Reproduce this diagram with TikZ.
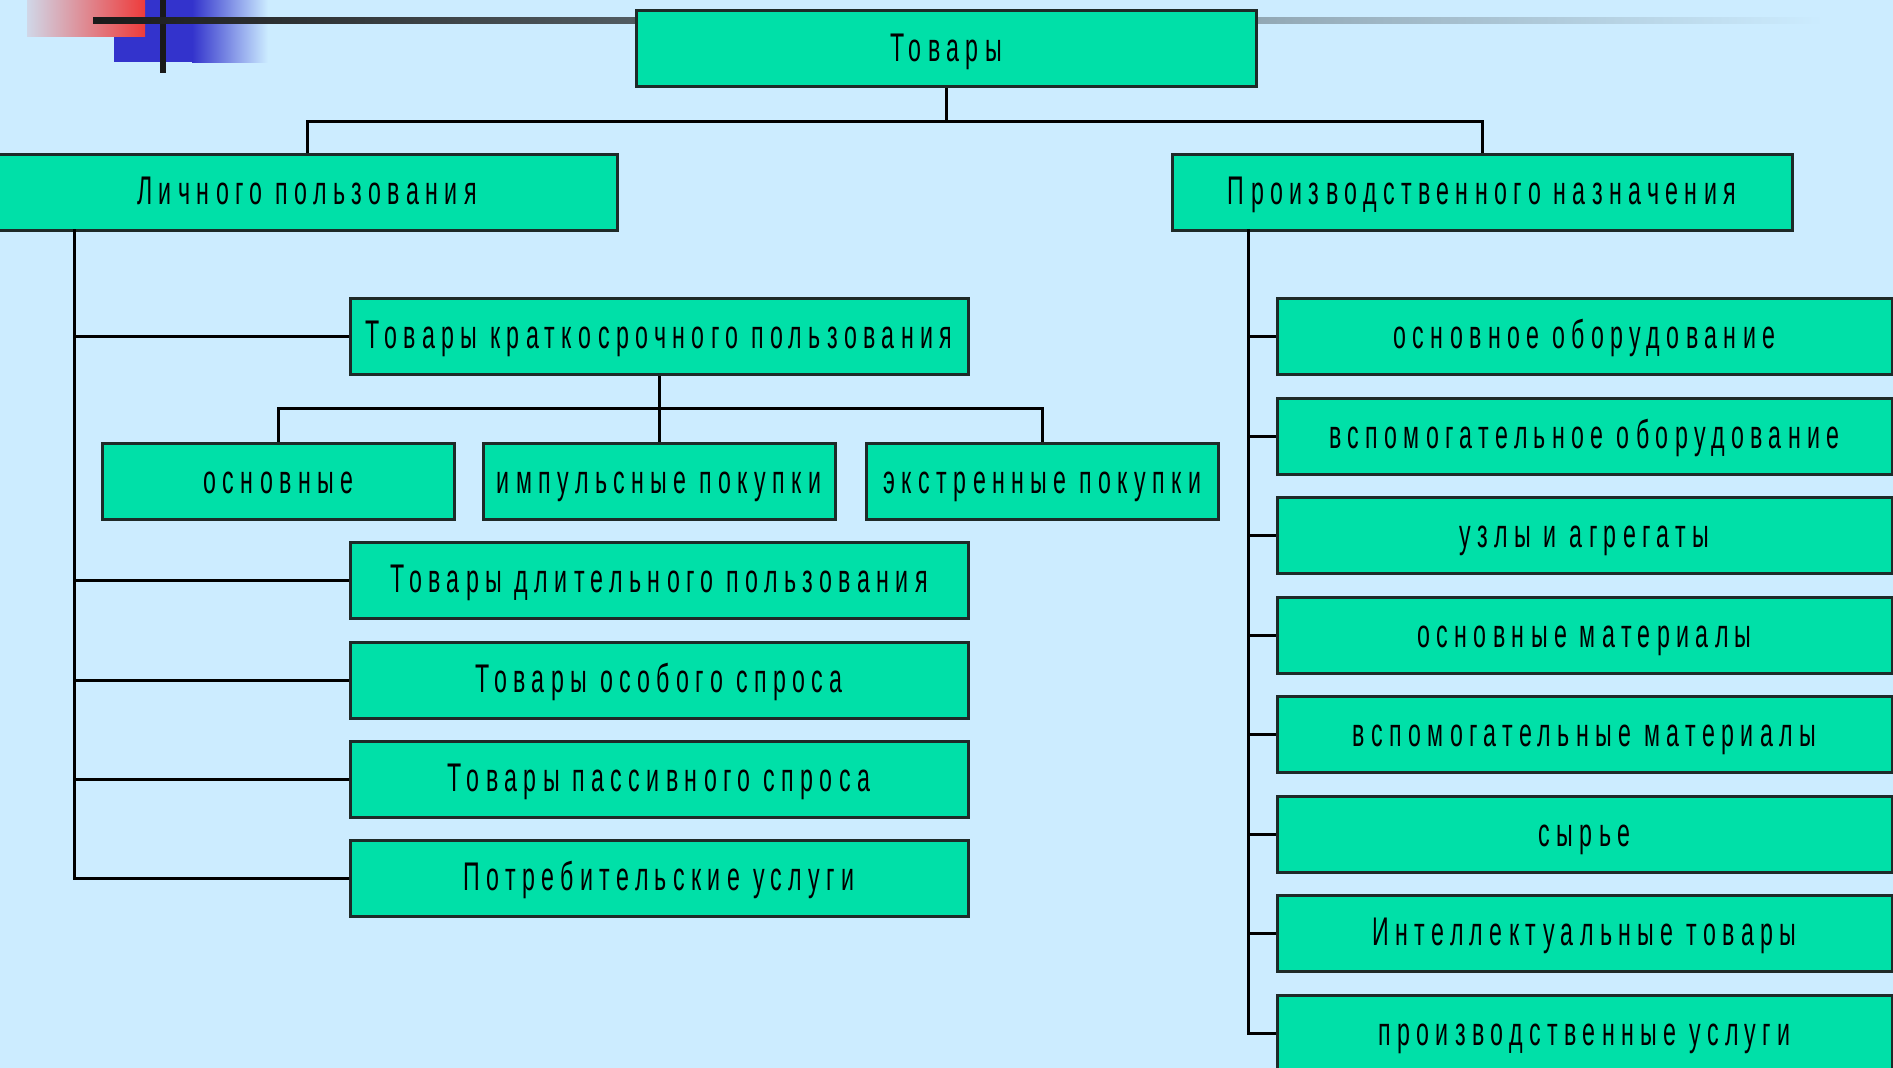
\documentclass[tikz,border=0pt]{standalone}
\usepackage{fontspec}
\usepackage{xcolor}
\newfontfamily\narrowfont[FakeStretch=0.58,LetterSpace=16]{Liberation Sans}
\definecolor{bgblue}{HTML}{CCECFF}
\definecolor{boxfill}{HTML}{00E0A8}
\definecolor{boxline}{HTML}{1E2A28}
\definecolor{decored}{HTML}{EE3B3B}
\definecolor{decoblue}{HTML}{3333CC}

\begin{document}
\begin{tikzpicture}[x=1pt,y=-1pt,
  box/.style={draw=boxline, line width=3pt, fill=boxfill, inner sep=0pt,
    minimum height=76pt, text height=29pt, text depth=4pt,
    font=\narrowfont\fontsize{40}{48}\selectfont},
  wide/.style={box, minimum width=620pt},
  small/.style={box, minimum width=352pt},
  rbox/.style={box, minimum width=615pt},
  link/.style={black, line width=3pt}]
  \useasboundingbox (0,0) rectangle (1893,1068);
  \fill[bgblue] (0,0) rectangle (1893,1068);
  \clip (0,0) rectangle (1893,1068);

  \fill[decoblue] (114,0) rectangle (193,62);
  \shade[left color=decoblue, right color=bgblue] (192,0) rectangle (268,62);
  \shade[left color=decored!12!bgblue, right color=decored] (27,0) rectangle (145,36);
  \fill[black!90] (160,0) rectangle (166,73);
  \shade[left color=black!90, right color=bgblue] (93,17.5) rectangle (1823,23.5);

  \node[wide] (top) at (946,48.5) {Товары};
  \node[wide] (lich) at (307,192) {Личного пользования};
  \node[wide] (proizv) at (1482,192) {Производственного назначения};

  \node[wide, minimum width=618pt] (kratk) at (659,336) {Товары краткосрочного пользования};
  \node[small] (osn) at (278.5,481) {основные};
  \node[small] (imp) at (659,481) {импульсные покупки};
  \node[small] (ekstr) at (1042.5,481) {экстренные покупки};
  \node[wide, minimum width=618pt] (dlit) at (659,580) {Товары длительного пользования};
  \node[wide, minimum width=618pt] (osob) at (659,680) {Товары особого спроса};
  \node[wide, minimum width=618pt] (pass) at (659,779) {Товары пассивного спроса};
  \node[wide, minimum width=618pt] (uslug) at (659,878) {Потребительские услуги};

  \node[rbox] (r1) at (1584.5,336) {основное оборудование};
  \node[rbox] (r2) at (1584.5,436) {вспомогательное оборудование};
  \node[rbox] (r3) at (1584.5,535) {узлы и агрегаты};
  \node[rbox] (r4) at (1584.5,635) {основные материалы};
  \node[rbox] (r5) at (1584.5,734) {вспомогательные материалы};
  \node[rbox] (r6) at (1584.5,834) {сырье};
  \node[rbox] (r7) at (1584.5,933) {Интеллектуальные товары};
  \node[rbox] (r8) at (1584.5,1033) {производственные услуги};

  \coordinate (busT) at (946,121);
  \coordinate (subT) at (659,408);
  \coordinate (ltop) at (74,229);
  \coordinate (rtop) at (1248,229);

  \draw[link] (top.south) -- (busT);
  \draw[link] (lich.north) |- (busT) -| (proizv.north);
  \draw[link] (kratk.south) -- (subT);
  \draw[link] (osn.north) |- (subT) -| (ekstr.north);
  \draw[link] (imp.north) -- (subT);

  \draw[link] (ltop) |- (kratk.west);
  \draw[link] (ltop) |- (dlit.west);
  \draw[link] (ltop) |- (osob.west);
  \draw[link] (ltop) |- (pass.west);
  \draw[link] (ltop) |- (uslug.west);

  \draw[link] (rtop) |- (r1.west);
  \draw[link] (rtop) |- (r2.west);
  \draw[link] (rtop) |- (r3.west);
  \draw[link] (rtop) |- (r4.west);
  \draw[link] (rtop) |- (r5.west);
  \draw[link] (rtop) |- (r6.west);
  \draw[link] (rtop) |- (r7.west);
  \draw[link] (rtop) |- (r8.west);
\end{tikzpicture}
\end{document}
